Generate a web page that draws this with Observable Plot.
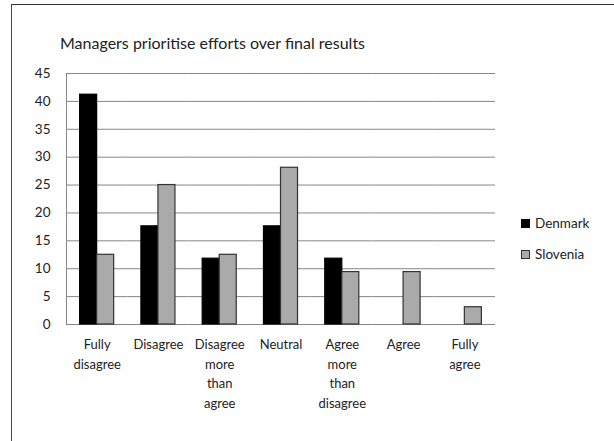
<!DOCTYPE html>
<html>
<head>
<meta charset="utf-8">
<script src="https://cdn.jsdelivr.net/npm/d3@7"></script>
<script src="https://cdn.jsdelivr.net/npm/@observablehq/plot@0.6"></script>
<style>
  html, body { margin: 0; padding: 0; background: #fff; }
  #wrap { position: relative; width: 614px; height: 441px; overflow: hidden; font-family: Lato, sans-serif; color: #222; }
  #border { position: absolute; left: 11px; top: 4px; right: -5px; bottom: -5px; border-top: 1px solid #333; border-left: 1.5px solid #444; }
  #title { position: absolute; left: 60px; top: 33px; font-size: 16px; white-space: nowrap; }
  #chart { position: absolute; left: 0; top: 0; }
  .legend { position: absolute; left: 521px; font-size: 13.5px; display: flex; align-items: center; }
  .legend .sw { width: 9px; height: 9px; box-sizing: border-box; margin-right: 5px; }
</style>
</head>
<body>
<div id="wrap">
  <div id="border"></div>
  <div id="chart"></div>
  <div id="title">Managers prioritise efforts over final results</div>
  <div class="legend" style="top:215px"><div class="sw" style="background:#000;border:1px solid #000"></div>Denmark</div>
  <div class="legend" style="top:246px"><div class="sw" style="background:#aaa;border:1px solid #333"></div>Slovenia</div>
</div>
<script>
const categories = ["Fully\ndisagree", "Disagree", "Disagree\nmore\nthan\nagree", "Neutral", "Agree\nmore\nthan\ndisagree", "Agree", "Fully\nagree"];
const series = ["Denmark", "Slovenia"];
const denmark = [41.2, 17.6, 11.8, 17.6, 11.8, 0, 0];
const slovenia = [12.5, 25, 12.5, 28.1, 9.4, 9.4, 3.1];
const yTicks = [0, 5, 10, 15, 20, 25, 30, 35, 40, 45];

const rows = [];
categories.forEach((c, i) => {
  if (denmark[i] > 0) rows.push({category: c, series: "Denmark", value: denmark[i]});
  if (slovenia[i] > 0) rows.push({category: c, series: "Slovenia", value: slovenia[i]});
});

const chart = Plot.plot({
  width: 614,
  height: 441,
  marginLeft: 66,
  marginRight: 119,
  marginTop: 73,
  marginBottom: 117,
  style: {fontFamily: "Lato, sans-serif", fontSize: "13px", color: "#222", background: "transparent"},
  fx: {domain: categories, padding: 0, round: false, label: null},
  x: {domain: series, paddingInner: 0, paddingOuter: 0.8, round: false, axis: null},
  y: {domain: [0, 45], ticks: yTicks, label: null},
  color: {domain: series, range: ["#000000", "#aaaaaa"]},
  marks: [
    Plot.ruleY(yTicks, {stroke: "#868686", strokeWidth: 1}),
    Plot.frame({anchor: "left", facet: "super", stroke: "#868686"}),
    Plot.barY(rows, {fx: "category", x: "series", y: "value", fill: "series",
      stroke: d => d.series === "Denmark" ? "#000" : "#333", strokeWidth: 1.2}),
    Plot.axisY({ticks: yTicks, tickSize: 0, tickPadding: 16, label: null, fontSize: 13.5}),
    Plot.axisFx({anchor: "bottom", tickSize: 0, tickPadding: 11, label: null, lineHeight: 1.5, fontSize: 13, lineAnchor: "top"})
  ]
});
document.getElementById("chart").appendChild(chart);
</script>
</body>
</html>
